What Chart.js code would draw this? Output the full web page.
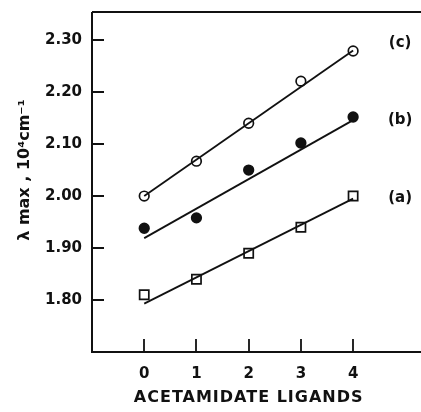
<!DOCTYPE html>
<html>
<head>
  <title>Lambda max vs acetamidate ligands</title>
  <script src="https://cdn.jsdelivr.net/npm/chart.js@4.4.1/dist/chart.umd.min.js"></script>
  <style>
    html, body { margin: 0; padding: 0; background: #fff; }
    #wrap { position: relative; width: 421px; height: 412px; }
  </style>
</head>
<body>
  <div id="wrap"><canvas id="chart" width="421" height="412"></canvas></div>
  <script>
    // Data
    var ligands = [0, 1, 2, 3, 4];
    var seriesA = [1.81, 1.84, 1.89, 1.94, 2.00];   // open squares
    var seriesB = [1.938, 1.958, 2.05, 2.102, 2.152]; // filled circles
    var seriesC = [2.00, 2.067, 2.14, 2.221, 2.279];  // open circles
    // fitted straight lines (ends at 0 and 4 ligands)
    var fitX = [0, 4];
    var fitA = [1.793, 1.995];
    var fitB = [1.919, 2.146];
    var fitC = [2.00, 2.28];
    var yTicks = [1.80, 1.90, 2.00, 2.10, 2.20, 2.30];
    var xTicks = [0, 1, 2, 3, 4];
    var curveNames = ['(a)', '(b)', '(c)'];
    var curveLabelY = [1.996, 2.146, 2.295];

    var ink = '#111';
    var tickFont = { family: 'DejaVu Sans', size: 15, weight: 'bold' };

    function pts(xs, ys) {
      return xs.map(function(x, i) { return { x: x, y: ys[i] }; });
    }

    function lineSet(ys) {
      return {
        type: 'line',
        data: pts(fitX, ys),
        borderColor: ink,
        borderWidth: 1.8,
        pointRadius: 0,
        fill: false
      };
    }

    function markSet(ys, style, filled, r) {
      return {
        type: 'scatter',
        data: pts(ligands, ys),
        pointStyle: style,
        pointRadius: r,
        pointBorderWidth: 1.7,
        pointBorderColor: ink,
        pointBackgroundColor: filled ? ink : '#fff'
      };
    }

    // frame, inward ticks, curve names and axis titles
    var decor = {
      id: 'decor',
      afterDraw: function(chart) {
        var ctx = chart.ctx;
        var a = chart.chartArea;
        var xs = chart.scales.x, ys = chart.scales.y;
        ctx.save();
        ctx.strokeStyle = ink;
        ctx.lineWidth = 2;
        ctx.beginPath();
        ctx.moveTo(a.left, a.top);
        ctx.lineTo(a.right, a.top);
        ctx.moveTo(a.left, a.top);
        ctx.lineTo(a.left, a.bottom);
        ctx.lineTo(a.right, a.bottom);
        ctx.stroke();

        ctx.lineWidth = 1.8;
        ctx.beginPath();
        yTicks.forEach(function(v) {
          var y = Math.round(ys.getPixelForValue(v));
          ctx.moveTo(a.left, y);
          ctx.lineTo(a.left + 12, y);
        });
        xTicks.forEach(function(v) {
          var x = Math.round(xs.getPixelForValue(v));
          ctx.moveTo(x, a.bottom);
          ctx.lineTo(x, a.bottom - 13);
        });
        ctx.stroke();

        ctx.fillStyle = ink;
        ctx.font = 'bold 15px "DejaVu Sans"';
        ctx.textAlign = 'center';
        ctx.textBaseline = 'middle';
        curveNames.forEach(function(n, i) {
          ctx.fillText(n, xs.getPixelForValue(4.9), ys.getPixelForValue(curveLabelY[i]));
        });

        ctx.font = 'bold 16px "DejaVu Sans"';
        ctx.letterSpacing = '1px';
        ctx.fillText('ACETAMIDATE LIGANDS', xs.getPixelForValue(2), 398);
        ctx.letterSpacing = '0px';

        ctx.translate(25, 170);
        ctx.rotate(-Math.PI / 2);
        ctx.font = 'bold 16px "DejaVu Sans"';
        ctx.fillText('\u03bb max , 10\u2074cm\u207b\u00b9', 0, 0);
        ctx.restore();
      }
    };

    var ctx = document.getElementById('chart').getContext('2d');
    new Chart(ctx, {
      data: {
        datasets: [
          lineSet(fitA), lineSet(fitB), lineSet(fitC),
          markSet(seriesA, 'rect', false, 6.5),
          markSet(seriesB, 'circle', true, 4.8),
          markSet(seriesC, 'circle', false, 4.8)
        ]
      },
      options: {
        responsive: false,
        animation: false,
        layout: { autoPadding: false, padding: { top: 12, right: 0, left: 0, bottom: 0 } },
        plugins: { legend: { display: false }, tooltip: { enabled: false } },
        scales: {
          x: {
            type: 'linear',
            min: -1,
            max: 5.3,
            afterFit: function(s) {
              s.height = 60;
              s.paddingLeft = 0;
              s.paddingRight = 0;
            },
            afterBuildTicks: function(s) {
              s.ticks = xTicks.map(function(v) { return { value: v }; });
            },
            grid: { display: false, drawTicks: false },
            border: { display: false },
            ticks: { color: ink, font: tickFont, padding: 13, maxRotation: 0 }
          },
          y: {
            type: 'linear',
            min: 1.70,
            max: 2.354,
            afterFit: function(s) {
              s.width = 92;
              s.paddingTop = 0;
              s.paddingBottom = 0;
            },
            afterBuildTicks: function(s) {
              s.ticks = yTicks.map(function(v) { return { value: v }; });
            },
            grid: { display: false, drawTicks: false },
            border: { display: false },
            ticks: {
              color: ink,
              font: tickFont,
              padding: 10,
              callback: function(v) { return v.toFixed(2); }
            }
          }
        }
      },
      plugins: [decor]
    });
  </script>
</body>
</html>
